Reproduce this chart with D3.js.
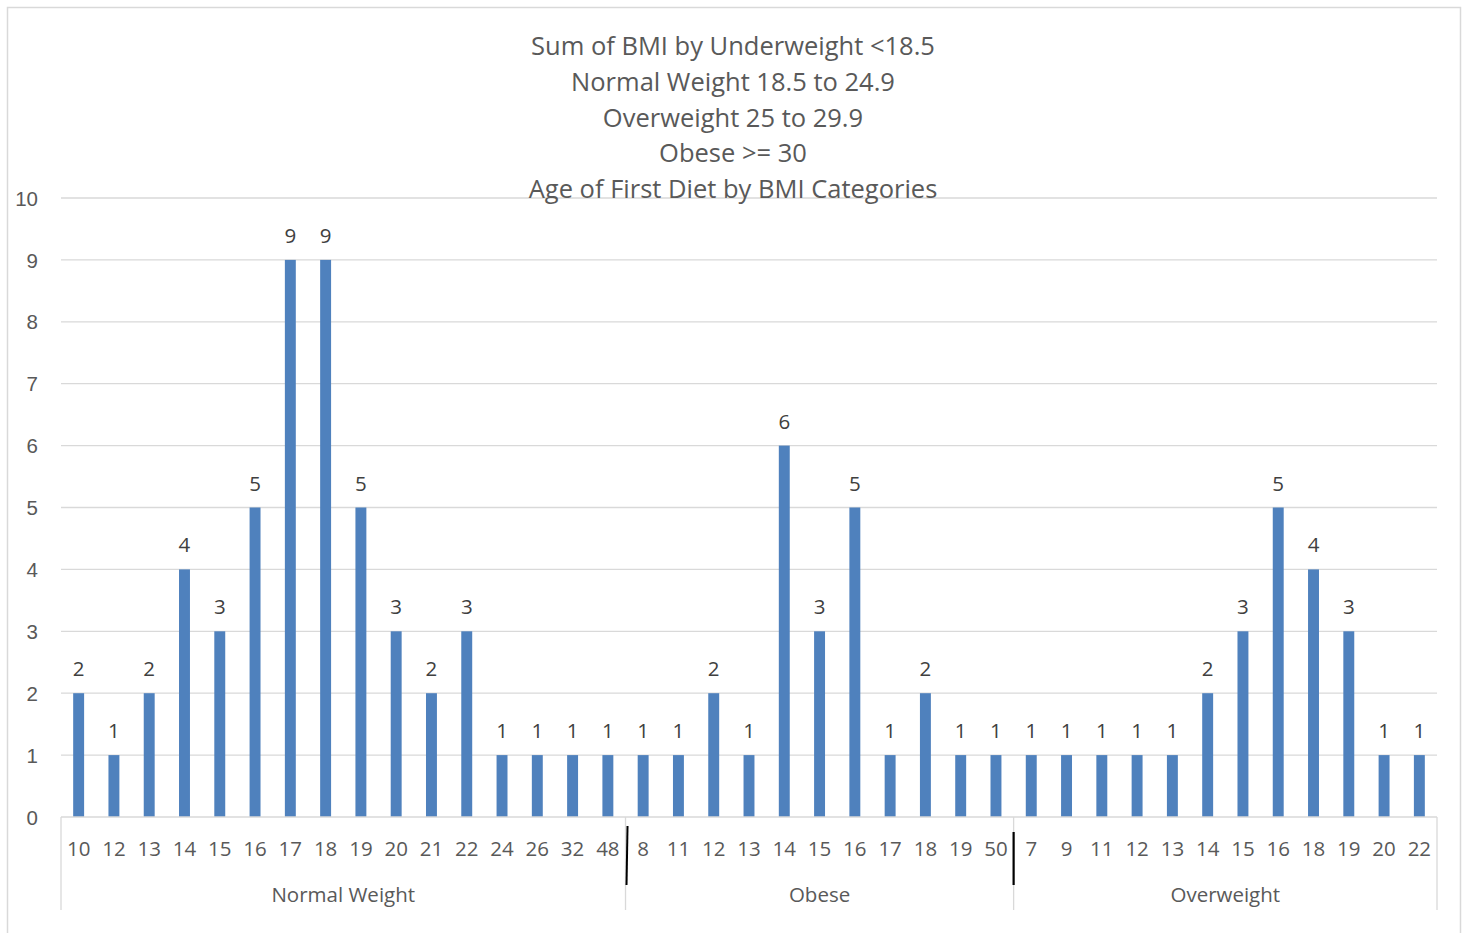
<!DOCTYPE html>
<html>
<head>
<meta charset="utf-8">
<script src="https://cdn.jsdelivr.net/npm/d3@7/dist/d3.min.js"></script>
<style>
  html, body { margin: 0; padding: 0; background: #fff; }
  svg { display: block; font-family: "Open Sans", "Liberation Sans", sans-serif; }
</style>
</head>
<body>
<svg id="chart" width="1466" height="933"></svg>
<script>
// Age of first diet, counted per BMI category
const groups = ["Normal Weight", "Obese", "Overweight"];
const normalAges   = ["10","12","13","14","15","16","17","18","19","20","21","22","24","26","32","48"];
const normalCounts = [2,1,2,4,3,5,9,9,5,3,2,3,1,1,1,1];
const obeseAges    = ["8","11","12","13","14","15","16","17","18","19","50"];
const obeseCounts  = [1,1,2,1,6,3,5,1,2,1,1];
const overAges     = ["7","9","11","12","13","14","15","16","18","19","20","22"];
const overCounts   = [1,1,1,1,1,2,3,5,4,3,1,1];
const yTicks = [0,1,2,3,4,5,6,7,8,9,10];
const titleLines = [
  "Sum of BMI by Underweight <18.5",
  "Normal Weight 18.5 to 24.9",
  "Overweight 25 to 29.9",
  "Obese >= 30",
  "Age of First Diet by BMI Categories"
];

// flatten into one row per bar
const ageLists = [normalAges, obeseAges, overAges];
const countLists = [normalCounts, obeseCounts, overCounts];
const rows = [];
groups.forEach((g, gi) => {
  ageLists[gi].forEach((a, i) => rows.push({ group: g, age: a, value: countLists[gi][i], key: g + "|" + a }));
});

const svg = d3.select("#chart");
const plotLeft = 61, plotRight = 1437, plotTop = 198, plotBottom = 817;

// outer chart frame
svg.append("rect").attr("x", 7.5).attr("y", 7.5).attr("width", 1453).attr("height", 930)
  .attr("fill", "#fff").attr("stroke", "#d9d9d9").attr("stroke-width", 1.5);

const x = d3.scaleBand().domain(rows.map(d => d.key)).range([plotLeft, plotRight]).paddingInner(0.69).paddingOuter(0.345);
const step = x.step();
const y = d3.scaleLinear().domain([0, 10]).range([plotBottom, plotTop]);

// gridlines
svg.append("g").selectAll("line").data(yTicks.filter(t => t > 0)).join("line")
  .attr("x1", plotLeft).attr("x2", plotRight)
  .attr("y1", d => y(d)).attr("y2", d => y(d))
  .attr("stroke", "#d9d9d9").attr("stroke-width", 1.3);

// y axis labels
const yAxis = d3.axisLeft(y).tickValues(yTicks).tickSize(0).tickPadding(23);
const yg = svg.append("g").attr("transform", `translate(${plotLeft},0)`).call(yAxis);
yg.select(".domain").remove();
yg.selectAll("text").attr("fill", "#595959").style("font-size", "20.5px").attr("dy", "0.35em")
  .style("font-family", "inherit");

// title
svg.append("g").selectAll("text").data(titleLines).join("text")
  .attr("x", 733).attr("y", (d, i) => 55 + i * 35.8)
  .attr("text-anchor", "middle").attr("fill", "#595959").style("font-size", "25.5px")
  .text(d => d);

// bars
svg.append("g").selectAll("rect").data(rows).join("rect")
  .attr("x", d => x(d.key)).attr("width", x.bandwidth())
  .attr("y", d => y(d.value)).attr("height", d => y(0) - y(d.value))
  .attr("fill", "#4f81bd");

// value labels
svg.append("g").selectAll("text").data(rows).join("text")
  .attr("x", d => x(d.key) + x.bandwidth() / 2).attr("y", d => y(d.value) - 17)
  .attr("text-anchor", "middle").attr("fill", "#404040").style("font-size", "20.5px")
  .text(d => d.value);

// category axis baseline
svg.append("line").attr("x1", plotLeft).attr("x2", plotRight).attr("y1", plotBottom).attr("y2", plotBottom)
  .attr("stroke", "#d9d9d9").attr("stroke-width", 1.3);

// age tick labels
svg.append("g").selectAll("text").data(rows).join("text")
  .attr("x", d => x(d.key) + x.bandwidth() / 2).attr("y", 856)
  .attr("text-anchor", "middle").attr("fill", "#595959").style("font-size", "20.5px")
  .text(d => d.age);

// group dividers and group labels
const bounds = [];
let idx = 0;
groups.forEach((g, gi) => {
  const start = plotLeft + idx * step;
  idx += ageLists[gi].length;
  const end = plotLeft + idx * step;
  bounds.push({ g, start, end });
});
const edges = [plotLeft, ...bounds.map(b => b.end)];
svg.append("g").selectAll("line").data(edges).join("line")
  .attr("x1", d => d).attr("x2", d => d).attr("y1", plotBottom).attr("y2", 910)
  .attr("stroke", "#d9d9d9").attr("stroke-width", 1.3);
svg.append("g").selectAll("text").data(bounds).join("text")
  .attr("x", d => (d.start + d.end) / 2).attr("y", 902)
  .attr("text-anchor", "middle").attr("fill", "#595959").style("font-size", "20.5px")
  .text(d => d.g);

// hand-drawn separator marks between groups
svg.append("line").attr("x1", bounds[0].end + 2).attr("y1", 826).attr("x2", bounds[0].end + 1).attr("y2", 885)
  .attr("stroke", "#000").attr("stroke-width", 2);
svg.append("line").attr("x1", bounds[1].end).attr("y1", 832).attr("x2", bounds[1].end).attr("y2", 885)
  .attr("stroke", "#000").attr("stroke-width", 2.2);
</script>
</body>
</html>
